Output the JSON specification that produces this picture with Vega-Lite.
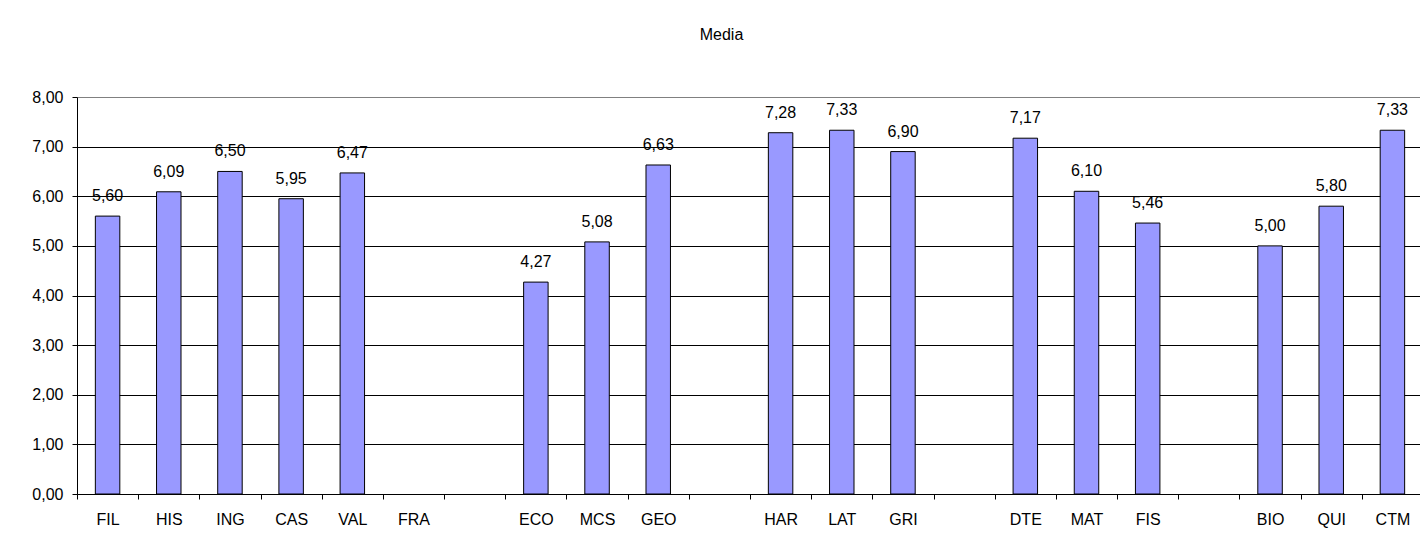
{
  "$schema": "https://vega.github.io/schema/vega-lite/v6.json",
  "autosize": "none",
  "width": 1343,
  "height": 397,
  "padding": {"left": 77, "top": 97, "right": 0, "bottom": 55},
  "background": "#ffffff",
  "config": {
    "locale": {"number": {"decimal": ",", "thousands": ".", "grouping": [3], "currency": ["", " €"]}},
    "view": {"stroke": null},
    "font": "Liberation Sans"
  },
  "title": {
    "text": "Media",
    "frame": "group",
    "anchor": "middle",
    "baseline": "alphabetic",
    "offset": 33,
    "dx": -27,
    "fontSize": 16,
    "fontWeight": "normal",
    "font": "Liberation Sans",
    "color": "#000000"
  },
  "data": {
    "values": [
      {"materia": "FIL", "media": 5.60},
      {"materia": "HIS", "media": 6.09},
      {"materia": "ING", "media": 6.50},
      {"materia": "CAS", "media": 5.95},
      {"materia": "VAL", "media": 6.47},
      {"materia": "FRA", "media": null},
      {"materia": "ECO", "media": 4.27},
      {"materia": "MCS", "media": 5.08},
      {"materia": "GEO", "media": 6.63},
      {"materia": "HAR", "media": 7.28},
      {"materia": "LAT", "media": 7.33},
      {"materia": "GRI", "media": 6.90},
      {"materia": "DTE", "media": 7.17},
      {"materia": "MAT", "media": 6.10},
      {"materia": "FIS", "media": 5.46},
      {"materia": "BIO", "media": 5.00},
      {"materia": "QUI", "media": 5.80},
      {"materia": "CTM", "media": 7.33}
    ]
  },
  "encoding": {
    "x": {
      "field": "materia",
      "type": "nominal",
      "sort": null,
      "scale": {
        "domain": ["FIL", "HIS", "ING", "CAS", "VAL", "FRA", " ", "ECO", "MCS", "GEO", "  ", "HAR", "LAT", "GRI", "   ", "DTE", "MAT", "FIS", "    ", "BIO", "QUI", "CTM"],
        "range": [0, 1346],
        "paddingInner": 0,
        "paddingOuter": 0
      },
      "axis": {
        "title": null,
        "labelAngle": 0,
        "tickBand": "extent",
        "tickSize": 5,
        "tickColor": "#000000",
        "domainColor": "#000000",
        "labelPadding": 12,
        "labelFontSize": 16,
        "labelFont": "Liberation Sans",
        "labelColor": "#000000",
        "labelOverlap": false,
        "labelBound": false,
        "grid": false
      }
    },
    "y": {
      "field": "media",
      "type": "quantitative",
      "scale": {"domain": [0, 8], "nice": false},
      "axis": {
        "title": null,
        "values": [0, 1, 2, 3, 4, 5, 6, 7, 8],
        "format": ".2f",
        "tickSize": 5,
        "tickColor": "#000000",
        "domainColor": "#000000",
        "labelPadding": 9,
        "labelFontSize": 16,
        "labelFont": "Liberation Sans",
        "labelColor": "#000000",
        "grid": true,
        "gridColor": {"condition": {"test": "datum.value == 8", "value": "#808080"}, "value": "#000000"},
        "gridOpacity": 1,
        "gridWidth": 1
      }
    }
  },
  "layer": [
    {
      "mark": {"type": "bar", "width": {"band": 0.4}, "fill": "#9999FF", "stroke": "#000000", "strokeWidth": 1}
    },
    {
      "mark": {"type": "text", "baseline": "alphabetic", "dy": -15, "fontSize": 16, "font": "Liberation Sans", "color": "#000000"},
      "encoding": {
        "text": {"field": "media", "type": "quantitative", "format": ".2f"}
      }
    }
  ]
}
